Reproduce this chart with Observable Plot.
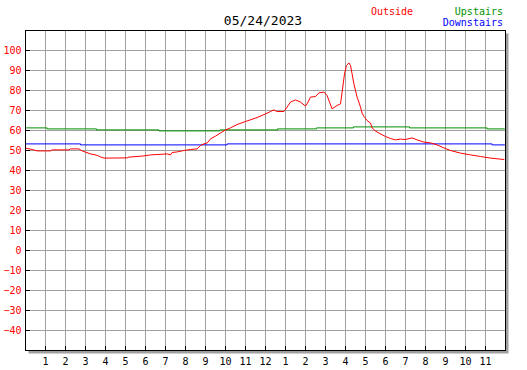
<!DOCTYPE html>
<html><head><meta charset="utf-8">
<script src="https://cdn.jsdelivr.net/npm/d3@7"></script>
<script src="https://cdn.jsdelivr.net/npm/@observablehq/plot@0.6"></script>
<style>body{margin:0;background:#fff}</style>
</head><body><div id="chart"></div>
<script>
const title = "05/24/2023";
const seriesNames = ["Outside", "Upstairs", "Downstairs"];
const seriesColors = ["#ff0000", "#009000", "#0000ff"];

// Outside temperature (hours since midnight, °F)
const outsideHours = [0, 0.33, 0.58, 1.25, 1.33, 2.17, 2.25, 2.67, 2.83, 3.0, 3.25, 3.58, 3.75, 3.92, 5.08, 5.17, 5.58, 5.92, 6.25, 6.58, 7.08, 7.25, 7.33, 7.58, 7.92, 8.25, 8.58, 8.75, 8.92, 9.08, 9.25, 9.5, 9.75, 10, 10.25, 10.58, 11, 11.58, 12, 12.25, 12.42, 12.58, 12.92, 13.08, 13.25, 13.5, 13.75, 14, 14.08, 14.25, 14.5, 14.67, 14.92, 15.08, 15.33, 15.58, 15.75, 15.83, 15.95, 16.05, 16.17, 16.25, 16.33, 16.42, 16.5, 16.58, 16.67, 16.75, 16.83, 16.92, 17.08, 17.25, 17.33, 17.5, 17.75, 18, 18.25, 18.5, 18.75, 19, 19.33, 19.58, 19.92, 20.25, 20.58, 20.92, 21.25, 21.75, 22.25, 22.75, 23.25, 23.92];
const outsideTemps = [51.2, 50.5, 49.8, 49.8, 50.3, 50.3, 50.8, 50.8, 49.8, 49.2, 48.3, 47.6, 46.8, 46.2, 46.3, 46.7, 47.0, 47.3, 47.8, 48.0, 48.3, 47.8, 49.0, 49.3, 50.0, 50.5, 50.8, 52.5, 53.3, 53.7, 55.8, 57.2, 58.8, 60.3, 61.3, 63.0, 64.5, 66.5, 68.3, 69.5, 70.3, 69.5, 69.5, 71.7, 74.2, 75.3, 74.2, 72.2, 73.3, 76.7, 77.0, 78.8, 79.2, 77.5, 70.8, 72.5, 73.3, 79.2, 88.3, 92.5, 93.8, 92.5, 88.3, 83.3, 80.0, 76.7, 74.2, 71.7, 68.7, 67.0, 65.0, 63.7, 61.3, 59.7, 58.3, 57.0, 56.0, 55.3, 55.7, 55.5, 56.3, 55.3, 54.2, 53.8, 52.8, 51.3, 50.0, 48.7, 47.8, 47.0, 46.2, 45.5];

// Upstairs temperature
const upstairsHours = [0, 1.08, 3.55, 6.67, 9.72, 12.6, 14.55, 16.4, 19.2, 23.08, 23.95];
const upstairsTemps = [61.3, 60.8, 60.3, 59.8, 60.3, 60.8, 61.3, 61.8, 61.3, 60.8, 60.8];

// Downstairs temperature
const downstairsHours = [0, 2.75, 10.08, 23.33, 23.95];
const downstairsTemps = [53.3, 52.8, 53.3, 52.8, 52.8];

const yTicks = d3.range(-40, 101, 10);
const xTicks = d3.range(1, 24);
const hourLabel = h => String((h - 1) % 12 + 1);

const lineOf = (hours, temps, color, curve) =>
  Plot.line(hours.map((h, i) => ({h, t: temps[i]})), {x: "h", y: "t", stroke: color, strokeWidth: 1, curve});

const plot = Plot.plot({
  width: 527, height: 370,
  marginLeft: 25, marginRight: 22, marginTop: 30, marginBottom: 20,
  x: {domain: [0, 24]},
  y: {domain: [-50, 110]},
  style: {fontFamily: "DejaVu Sans Mono", fontSize: "10px", background: "white", overflow: "visible"},
  marks: [
    Plot.frame({fill: "#a0a0a0", dx: 3, dy: 3}),
    Plot.frame({fill: "white"}),
    Plot.gridX(xTicks, {stroke: "#a0a0a0", strokeOpacity: 1}),
    Plot.gridY(yTicks, {stroke: "#a0a0a0", strokeOpacity: 1}),
    Plot.ruleY(yTicks, {x1: 0, x2: 0.25, stroke: "black"}),
    Plot.ruleX(xTicks, {y1: -50, y2: -48, stroke: "black"}),
    Plot.axisY(yTicks, {tickSize: 0, tickPadding: 4, color: "red", label: null}),
    Plot.axisX(xTicks, {tickSize: 0, tickPadding: 7, tickFormat: hourLabel, label: null, color: "black"}),
    lineOf(downstairsHours, downstairsTemps, seriesColors[2], "step-after"),
    lineOf(upstairsHours, upstairsTemps, seriesColors[1], "step-after"),
    lineOf(outsideHours, outsideTemps, seriesColors[0], "linear"),
    Plot.frame({stroke: "black"})
  ]
});

const svg = d3.select(plot);
svg.append("text").attr("x", 263).attr("y", 25).attr("text-anchor", "middle")
  .attr("font-size", 13).attr("fill", "black").text(title);
svg.append("text").attr("x", 371).attr("y", 15).attr("text-anchor", "start")
  .attr("font-size", 10).attr("fill", seriesColors[0]).text(seriesNames[0]);
svg.append("text").attr("x", 503).attr("y", 15).attr("text-anchor", "end")
  .attr("font-size", 10).attr("fill", seriesColors[1]).text(seriesNames[1]);
svg.append("text").attr("x", 503).attr("y", 26).attr("text-anchor", "end")
  .attr("font-size", 10).attr("fill", seriesColors[2]).text(seriesNames[2]);

document.getElementById("chart").appendChild(plot);
</script>
</body></html>
